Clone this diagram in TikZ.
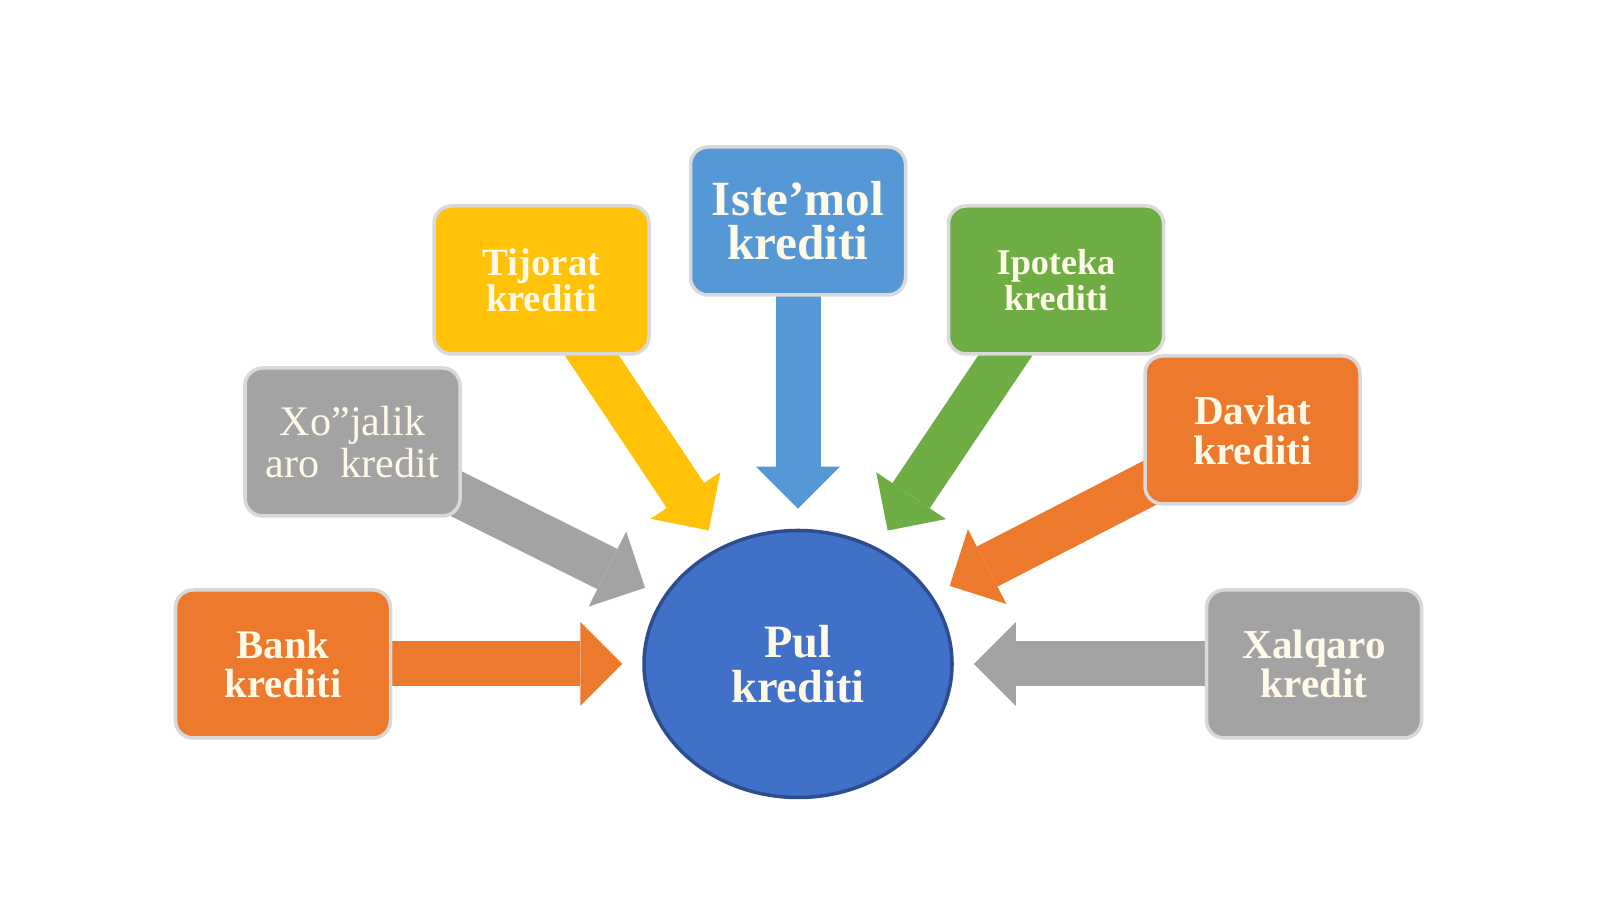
\documentclass[tikz,border=0pt]{standalone}
\usepackage{fontspec}
\setmainfont{Liberation Serif}
\usetikzlibrary{arrows.meta,shapes.geometric,backgrounds}
\definecolor{cOrange}{RGB}{236,121,44}
\definecolor{cGray}{RGB}{163,163,163}
\definecolor{cYellow}{RGB}{255,194,8}
\definecolor{cBlue}{RGB}{86,152,214}
\definecolor{cGreen}{RGB}{110,173,68}
\definecolor{cPul}{RGB}{64,112,200}
\definecolor{cText}{RGB}{255,250,232}
\begin{document}
\begin{tikzpicture}

\def\bw{2.15cm}
\def\bh{1.48cm}
\tikzstyle{block} = [
	draw=white!85!black, line width=1pt, rectangle, rounded corners=5pt,
	minimum width=\bw, minimum height=\bh, align=center, text=cText ];
\tikzstyle{flow} = [line width=0.45cm,
	-{Triangle[length=0.42cm,width=0.84cm,line width=0pt]},
	shorten >=0.2cm, shorten <=-0.3cm];
\useasboundingbox (0,0) rectangle (16,8.99);

\node[ellipse,draw=cPul!70!black,line width=1pt,fill=cPul,text=cText,
	minimum width=3.08cm,minimum height=2.67cm,inner sep=0pt,align=center,
	font=\bfseries\fontsize{13.2}{12.8}\selectfont] (c0) at (7.98,2.35) {Pul\\krediti};

% boxes round the circle
\node[block,fill=cOrange,font=\bfseries\fontsize{11.6}{11}\selectfont] (b1) at (2.83,2.35) {Bank\\krediti};
\node[block,fill=cGray,font=\fontsize{12}{10.8}\selectfont] (b2) at (3.525,4.57) {Xo”jalik\\aro\ \ kredit};
\node[block,fill=cYellow,font=\bfseries\fontsize{11}{10.3}\selectfont] (b3) at (5.415,6.19) {Tijorat\\krediti};
\node[block,fill=cBlue,font=\bfseries\fontsize{14}{12.5}\selectfont] (b4) at (7.98,6.78) {Iste’mol\\krediti};
\node[block,fill=cGreen,font=\bfseries\fontsize{10.3}{9.3}\selectfont] (b5) at (10.56,6.19) {Ipoteka\\krediti};
\node[block,fill=cOrange,font=\bfseries\fontsize{11.7}{11.4}\selectfont] (b6) at (12.525,4.69) {Davlat\\krediti};
\node[block,fill=cGray,font=\bfseries\fontsize{11.7}{10.9}\selectfont] (b7) at (13.14,2.35) {Xalqaro\\kredit};

% arrows into the circle, behind the boxes
\begin{pgfonlayer}{background}
\fill[white] (0,0) rectangle (16,8.99);
\draw[flow,cOrange] (b1) -- (c0);
\draw[flow,cGray] (b2) -- (c0);
\draw[flow,cYellow] (b3) -- (c0);
\draw[flow,cBlue] (b4) -- (c0);
\draw[flow,cGreen] (b5) -- (c0);
\draw[flow,cOrange] (b6) -- (c0);
\draw[flow,cGray] (b7) -- (c0);
\end{pgfonlayer}

\end{tikzpicture}
\end{document}
